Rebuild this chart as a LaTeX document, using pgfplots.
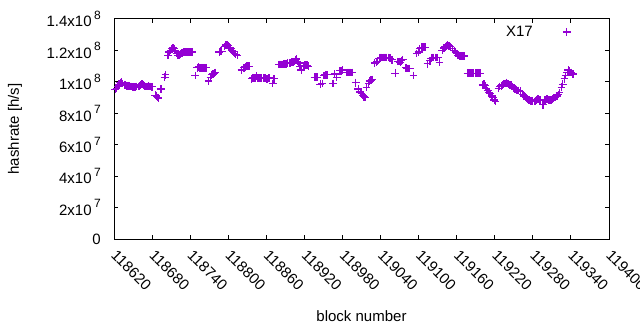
\documentclass[border=0pt]{standalone}
\usepackage{fontspec}
\setmainfont{Liberation Sans}
\usepackage{pgfplots}
\pgfplotsset{compat=1.18}
\definecolor{hv}{HTML}{9400D3}
\newcommand{\ex}[1]{\kern2.5bp\raisebox{0.5em}{\fontsize{12bp}{12bp}\selectfont #1}}
\newcommand{\fnt}{\fontsize{15bp}{18bp}\selectfont}
\begin{document}
\fnt
\begin{tikzpicture}
\path[use as bounding box] (0,0) rectangle (640bp,330bp);
\begin{axis}[
  at={(114bp,91bp)}, anchor=south west,
  scale only axis, width=495bp, height=220bp,
  xmin=118620, xmax=119400, ymin=0, ymax=1.4e8,
  axis line style={line width=1bp},
  every tick/.style={black, line width=1bp},
  major tick length=4bp, tick align=inside,
  scaled x ticks=false, scaled y ticks=false,
  xtick={118620,118680,118740,118800,118860,118920,118980,119040,119100,119160,119220,119280,119340,119400},
  xticklabels={118620,118680,118740,118800,118860,118920,118980,119040,119100,119160,119220,119280,119340,119400},
  ytick={0,2e7,4e7,6e7,8e7,1e8,1.2e8,1.4e8},
  yticklabels={0,2x10\ex{7},4x10\ex{7},6x10\ex{7},8x10\ex{7},1x10\ex{8},1.2x10\ex{8},1.4x10\ex{8}},
  xticklabel style={font=\fnt, rotate=-45, anchor=west, inner sep=0pt},
  xticklabel shift=14bp,
  yticklabel style={font=\fnt, anchor=east, inner sep=0pt},
  yticklabel shift=13bp,
  xlabel={block number}, ylabel={hashrate [h/s]},
  xlabel style={font=\fnt, at={(axis description cs:0.5,-0.35)}, anchor=center},
  ylabel style={font=\fnt, at={(axis description cs:-0.2,0.5)}, anchor=center},
  legend plot pos=right,
  legend style={draw=none, fill=none, font=\fnt, at={(rel axis cs:0.9354,0.941)}, anchor=east, inner sep=0pt, nodes={inner sep=0pt}, column sep=0pt},
  legend image code/.code={\path[draw=none,fill=none] (0bp,-4bp) rectangle (44bp,4bp); \draw[draw=hv, line width=1.2bp, mark=+, mark size=3.9bp, mark options={draw=hv, line width=1.2bp}] plot coordinates {(34bp,0bp)};},
]
\addplot[only marks, mark=+, draw=hv, color=hv, mark size=3.9bp, mark options={draw=hv, line width=1.2bp}] table {
118622 9.52e7
118624 9.60e7
118626 9.72e7
118628 9.84e7
118630 9.95e7
118632 9.98e7
118634 9.90e7
118636 9.82e7
118638 9.80e7
118640 9.76e7
118642 9.75e7
118644 9.74e7
118646 9.70e7
118648 9.70e7
118650 9.68e7
118652 9.65e7
118654 9.68e7
118656 9.70e7
118658 9.70e7
118660 9.74e7
118662 9.80e7
118664 9.86e7
118666 9.80e7
118668 9.74e7
118670 9.70e7
118672 9.70e7
118674 9.72e7
118676 9.70e7
118678 9.70e7
118680 9.68e7
118685 9.15e7
118687 9.10e7
118689 9.00e7
118690 8.95e7
118694 9.55e7
118700 10.3e7
118701 10.45e7
118705 11.7e7
118707 11.9e7
118709 12.0e7
118711 12.1e7
118713 12.15e7
118715 12.1e7
118717 12.0e7
118719 11.8e7
118721 11.7e7
118723 11.7e7
118725 11.75e7
118727 11.85e7
118729 11.9e7
118731 11.9e7
118733 11.9e7
118735 11.9e7
118737 11.9e7
118739 11.9e7
118741 11.9e7
118743 11.9e7
118748 10.4e7
118751 10.9e7
118753 10.95e7
118755 10.9e7
118757 10.9e7
118759 10.9e7
118761 10.9e7
118763 10.9e7
118765 10.9e7
118769 10.05e7
118772 10.3e7
118774 10.45e7
118776 10.5e7
118778 10.55e7
118780 10.6e7
118786 11.9e7
118788 11.95e7
118790 11.95e7
118794 12.25e7
118796 12.35e7
118798 12.35e7
118800 12.3e7
118802 12.2e7
118804 12.1e7
118806 12.0e7
118808 11.95e7
118810 11.8e7
118812 11.75e7
118814 11.7e7
118821 10.75e7
118825 10.9e7
118827 10.95e7
118829 11.0e7
118831 11.0e7
118833 11.0e7
118837 10.2e7
118839 10.25e7
118841 10.25e7
118843 10.25e7
118845 10.35e7
118847 10.25e7
118849 10.25e7
118851 10.25e7
118853 10.25e7
118855 10.25e7
118857 10.25e7
118859 10.25e7
118861 10.2e7
118863 10.25e7
118865 10.25e7
118870 9.90e7
118872 10.2e7
118880 11.1e7
118882 11.1e7
118884 11.1e7
118886 11.1e7
118888 11.15e7
118890 11.15e7
118892 11.15e7
118894 11.2e7
118896 11.2e7
118898 11.2e7
118900 11.25e7
118902 11.25e7
118904 11.3e7
118906 11.4e7
118907 11.45e7
118909 11.3e7
118911 11.2e7
118913 11.0e7
118915 10.75e7
118918 11.0e7
118920 11.05e7
118922 11.05e7
118924 11.05e7
118926 11.0e7
118936 10.3e7
118938 10.3e7
118940 10.3e7
118945 9.85e7
118948 9.9e7
118951 10.4e7
118953 10.45e7
118955 10.45e7
118957 10.45e7
118965 9.9e7
118968 10.5e7
118971 10.3e7
118976 10.7e7
118978 10.7e7
118980 10.75e7
118987 10.6e7
118989 10.6e7
118991 10.6e7
118993 10.6e7
118995 10.6e7
119001 9.95e7
119005 9.55e7
119008 9.35e7
119010 9.25e7
119012 9.15e7
119014 9.05e7
119016 9.0e7
119018 9.65e7
119021 9.9e7
119023 10.05e7
119025 10.1e7
119027 10.15e7
119031 11.2e7
119033 11.25e7
119035 11.3e7
119038 11.5e7
119040 11.55e7
119042 11.55e7
119044 11.55e7
119046 11.55e7
119048 11.55e7
119050 11.55e7
119052 11.55e7
119055 11.5e7
119058 11.4e7
119063 10.55e7
119067 11.3e7
119069 11.3e7
119071 11.25e7
119073 11.35e7
119075 11.4e7
119080 10.9e7
119082 10.85e7
119084 10.85e7
119086 10.85e7
119092 10.4e7
119097 11.8e7
119100 11.9e7
119102 12.1e7
119104 12.2e7
119106 12.2e7
119108 12.2e7
119110 12.2e7
119114 11.15e7
119118 11.35e7
119120 11.5e7
119122 11.55e7
119124 11.55e7
119126 11.55e7
119128 11.55e7
119130 11.55e7
119133 11.25e7
119137 12.0e7
119140 12.15e7
119142 12.25e7
119144 12.3e7
119146 12.35e7
119148 12.3e7
119150 12.25e7
119153 12.1e7
119156 12.0e7
119158 11.9e7
119160 11.8e7
119162 11.7e7
119164 11.65e7
119166 11.65e7
119168 11.65e7
119170 11.65e7
119172 11.65e7
119177 10.55e7
119179 10.55e7
119181 10.55e7
119183 10.55e7
119185 10.55e7
119187 10.55e7
119189 10.55e7
119191 10.55e7
119193 10.55e7
119195 10.55e7
119197 10.55e7
119201 9.8e7
119203 9.85e7
119205 9.75e7
119207 9.6e7
119209 9.45e7
119211 9.3e7
119213 9.25e7
119215 9.1e7
119217 9.0e7
119219 8.85e7
119221 8.75e7
119226 9.6e7
119228 9.7e7
119230 9.75e7
119232 9.8e7
119234 9.85e7
119236 9.9e7
119238 9.95e7
119240 9.9e7
119242 9.85e7
119244 9.8e7
119246 9.8e7
119248 9.7e7
119250 9.6e7
119252 9.55e7
119254 9.5e7
119256 9.45e7
119258 9.45e7
119260 9.4e7
119264 9.2e7
119266 9.1e7
119268 9.05e7
119270 8.95e7
119272 8.9e7
119274 8.85e7
119276 8.8e7
119278 8.8e7
119280 8.8e7
119282 8.75e7
119284 8.8e7
119286 8.85e7
119288 8.9e7
119290 8.85e7
119292 8.85e7
119296 8.55e7
119299 8.85e7
119301 8.9e7
119303 8.9e7
119305 8.85e7
119307 8.85e7
119309 8.85e7
119311 8.9e7
119313 8.95e7
119315 9.0e7
119318 9.1e7
119320 9.2e7
119322 9.3e7
119325 9.65e7
119327 9.85e7
119330 10.2e7
119332 10.4e7
119334 10.6e7
119336 10.75e7
119338 10.7e7
119340 10.6e7
119342 10.5e7
119344 10.5e7
};
\addlegendentry{X17}
\end{axis}
\end{tikzpicture}
\end{document}
